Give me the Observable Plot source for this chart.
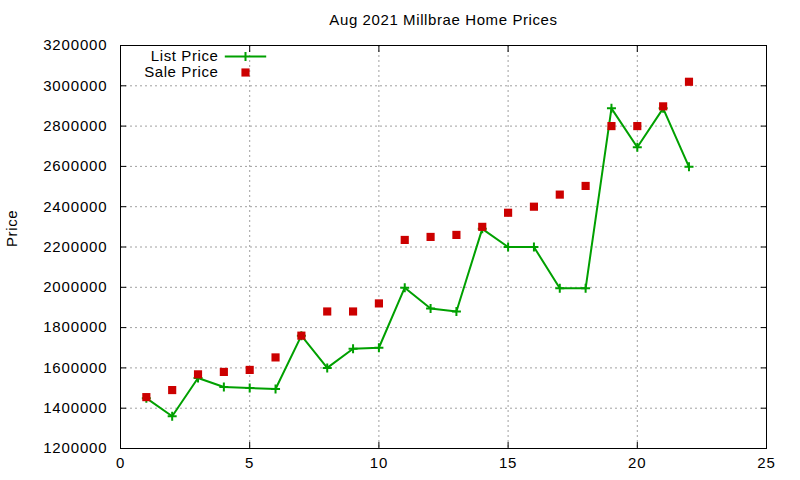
<!DOCTYPE html>
<html>
<head>
<meta charset="utf-8">
<script src="https://cdn.jsdelivr.net/npm/d3@7"></script>
<script src="https://cdn.jsdelivr.net/npm/@observablehq/plot@0.6"></script>
<style>
  body { margin: 0; background: #fff; }
  #chart svg { font-family: "Liberation Sans", Arial, sans-serif; }
  #chart svg text { letter-spacing: 0.6px; }
  #chart svg g[aria-label="y-axis tick label"] text,
  #chart svg g[aria-label="x-axis tick label"] text { letter-spacing: 0.85px; }
</style>
</head>
<body>
<div id="chart"></div>
<script>
const title = "Aug 2021 Millbrae Home Prices";
const yLabel = "Price";
const seriesNames = ["List Price", "Sale Price"];
const listing = [1,2,3,4,5,6,7,8,9,10,11,12,13,14,15,16,17,18,19,20,21,22];
const listPrice = [1450000,1360000,1550000,1505000,1500000,1495000,1760000,1600000,1695000,1700000,1998000,1895000,1880000,2290000,2200000,2200000,1995000,1995000,2888000,2695000,2888000,2598000];
const salePrice = [1455000,1490000,1568000,1580000,1590000,1652000,1760000,1880000,1880000,1920000,2235000,2250000,2260000,2300000,2370000,2400000,2460000,2503000,2800000,2800000,2898000,3020000];
const xTicks = [0,5,10,15,20,25];
const yTicks = [1200000,1400000,1600000,1800000,2000000,2200000,2400000,2600000,2800000,3000000,3200000];

const green = "#00a000";
const red = "#cc0000";

const listData = listing.map((x, i) => ({x, y: listPrice[i]}));
const saleData = listing.map((x, i) => ({x, y: salePrice[i]}));

const plus = {
  draw(ctx, size) {
    const r = Math.sqrt(size / Math.PI);
    ctx.moveTo(-r, 0); ctx.lineTo(r, 0);
    ctx.moveTo(0, -r); ctx.lineTo(0, r);
  }
};
const legendLine = {
  draw(ctx, size) {
    const r = Math.sqrt(size / Math.PI);
    ctx.moveTo(-4.6 * r, 0); ctx.lineTo(4.6 * r, 0);
    ctx.moveTo(0, -r); ctx.lineTo(0, r);
  }
};

const fs = 15;
const chart = Plot.plot({
  width: 800,
  height: 480,
  marginLeft: 120,
  marginRight: 34,
  marginTop: 45,
  marginBottom: 32,
  x: {domain: [0, 25]},
  y: {domain: [1200000, 3200000]},
  style: {fontSize: fs + "px", fontFamily: "Liberation Sans, Arial, sans-serif", color: "black"},
  marks: [
    Plot.gridX(xTicks, {stroke: "#a0a0a0", strokeOpacity: 1, strokeDasharray: "2,3"}),
    Plot.gridY(yTicks, {stroke: "#a0a0a0", strokeOpacity: 1, strokeDasharray: "2,3"}),
    Plot.frame({stroke: "black", strokeWidth: 1}),
    Plot.axisX(xTicks, {anchor: "bottom", tickSize: 0, tickPadding: 9, label: null, fontSize: fs}),
    Plot.axisY(yTicks, {anchor: "left", tickSize: 0, tickPadding: 13, label: null, tickFormat: d3.format("d"), fontSize: fs}),
    Plot.axisX(xTicks, {anchor: "bottom", tickSize: -6, tickFormat: () => "", label: null}),
    Plot.axisX(xTicks, {anchor: "top", tickSize: -6, tickFormat: () => "", label: null}),
    Plot.axisY(yTicks, {anchor: "left", tickSize: -6, tickFormat: () => "", label: null}),
    Plot.axisY(yTicks, {anchor: "right", tickSize: -6, tickFormat: () => "", label: null}),
    Plot.line(listData, {x: "x", y: "y", stroke: green, strokeWidth: 2}),
    Plot.dot(listData, {x: "x", y: "y", symbol: plus, r: 4.5, stroke: green, strokeWidth: 2, fill: "none"}),
    Plot.dot(saleData, {x: "x", y: "y", symbol: "square", r: 4.6, fill: red, stroke: "none"}),
    Plot.text([title], {frameAnchor: "top", lineAnchor: "middle", dy: -25, fontSize: fs, fill: "black"}),
    Plot.text([yLabel], {frameAnchor: "left", lineAnchor: "middle", dx: -108, rotate: -90, fontSize: fs, fill: "black"}),
    Plot.text([seriesNames[0]], {frameAnchor: "top-left", lineAnchor: "middle", dx: 98, dy: 11, textAnchor: "end", fontSize: fs, fill: "black"}),
    Plot.text([seriesNames[1]], {frameAnchor: "top-left", lineAnchor: "middle", dx: 98, dy: 27, textAnchor: "end", fontSize: fs, fill: "black"}),
    Plot.dot([seriesNames[0]], {frameAnchor: "top-left", dx: 125, dy: 11, symbol: legendLine, r: 4.5, stroke: green, strokeWidth: 2, fill: "none"}),
    Plot.dot([seriesNames[1]], {frameAnchor: "top-left", dx: 125, dy: 27, symbol: "square", r: 4.6, fill: red, stroke: "none"})
  ]
});
document.getElementById("chart").appendChild(chart);
</script>
</body>
</html>
